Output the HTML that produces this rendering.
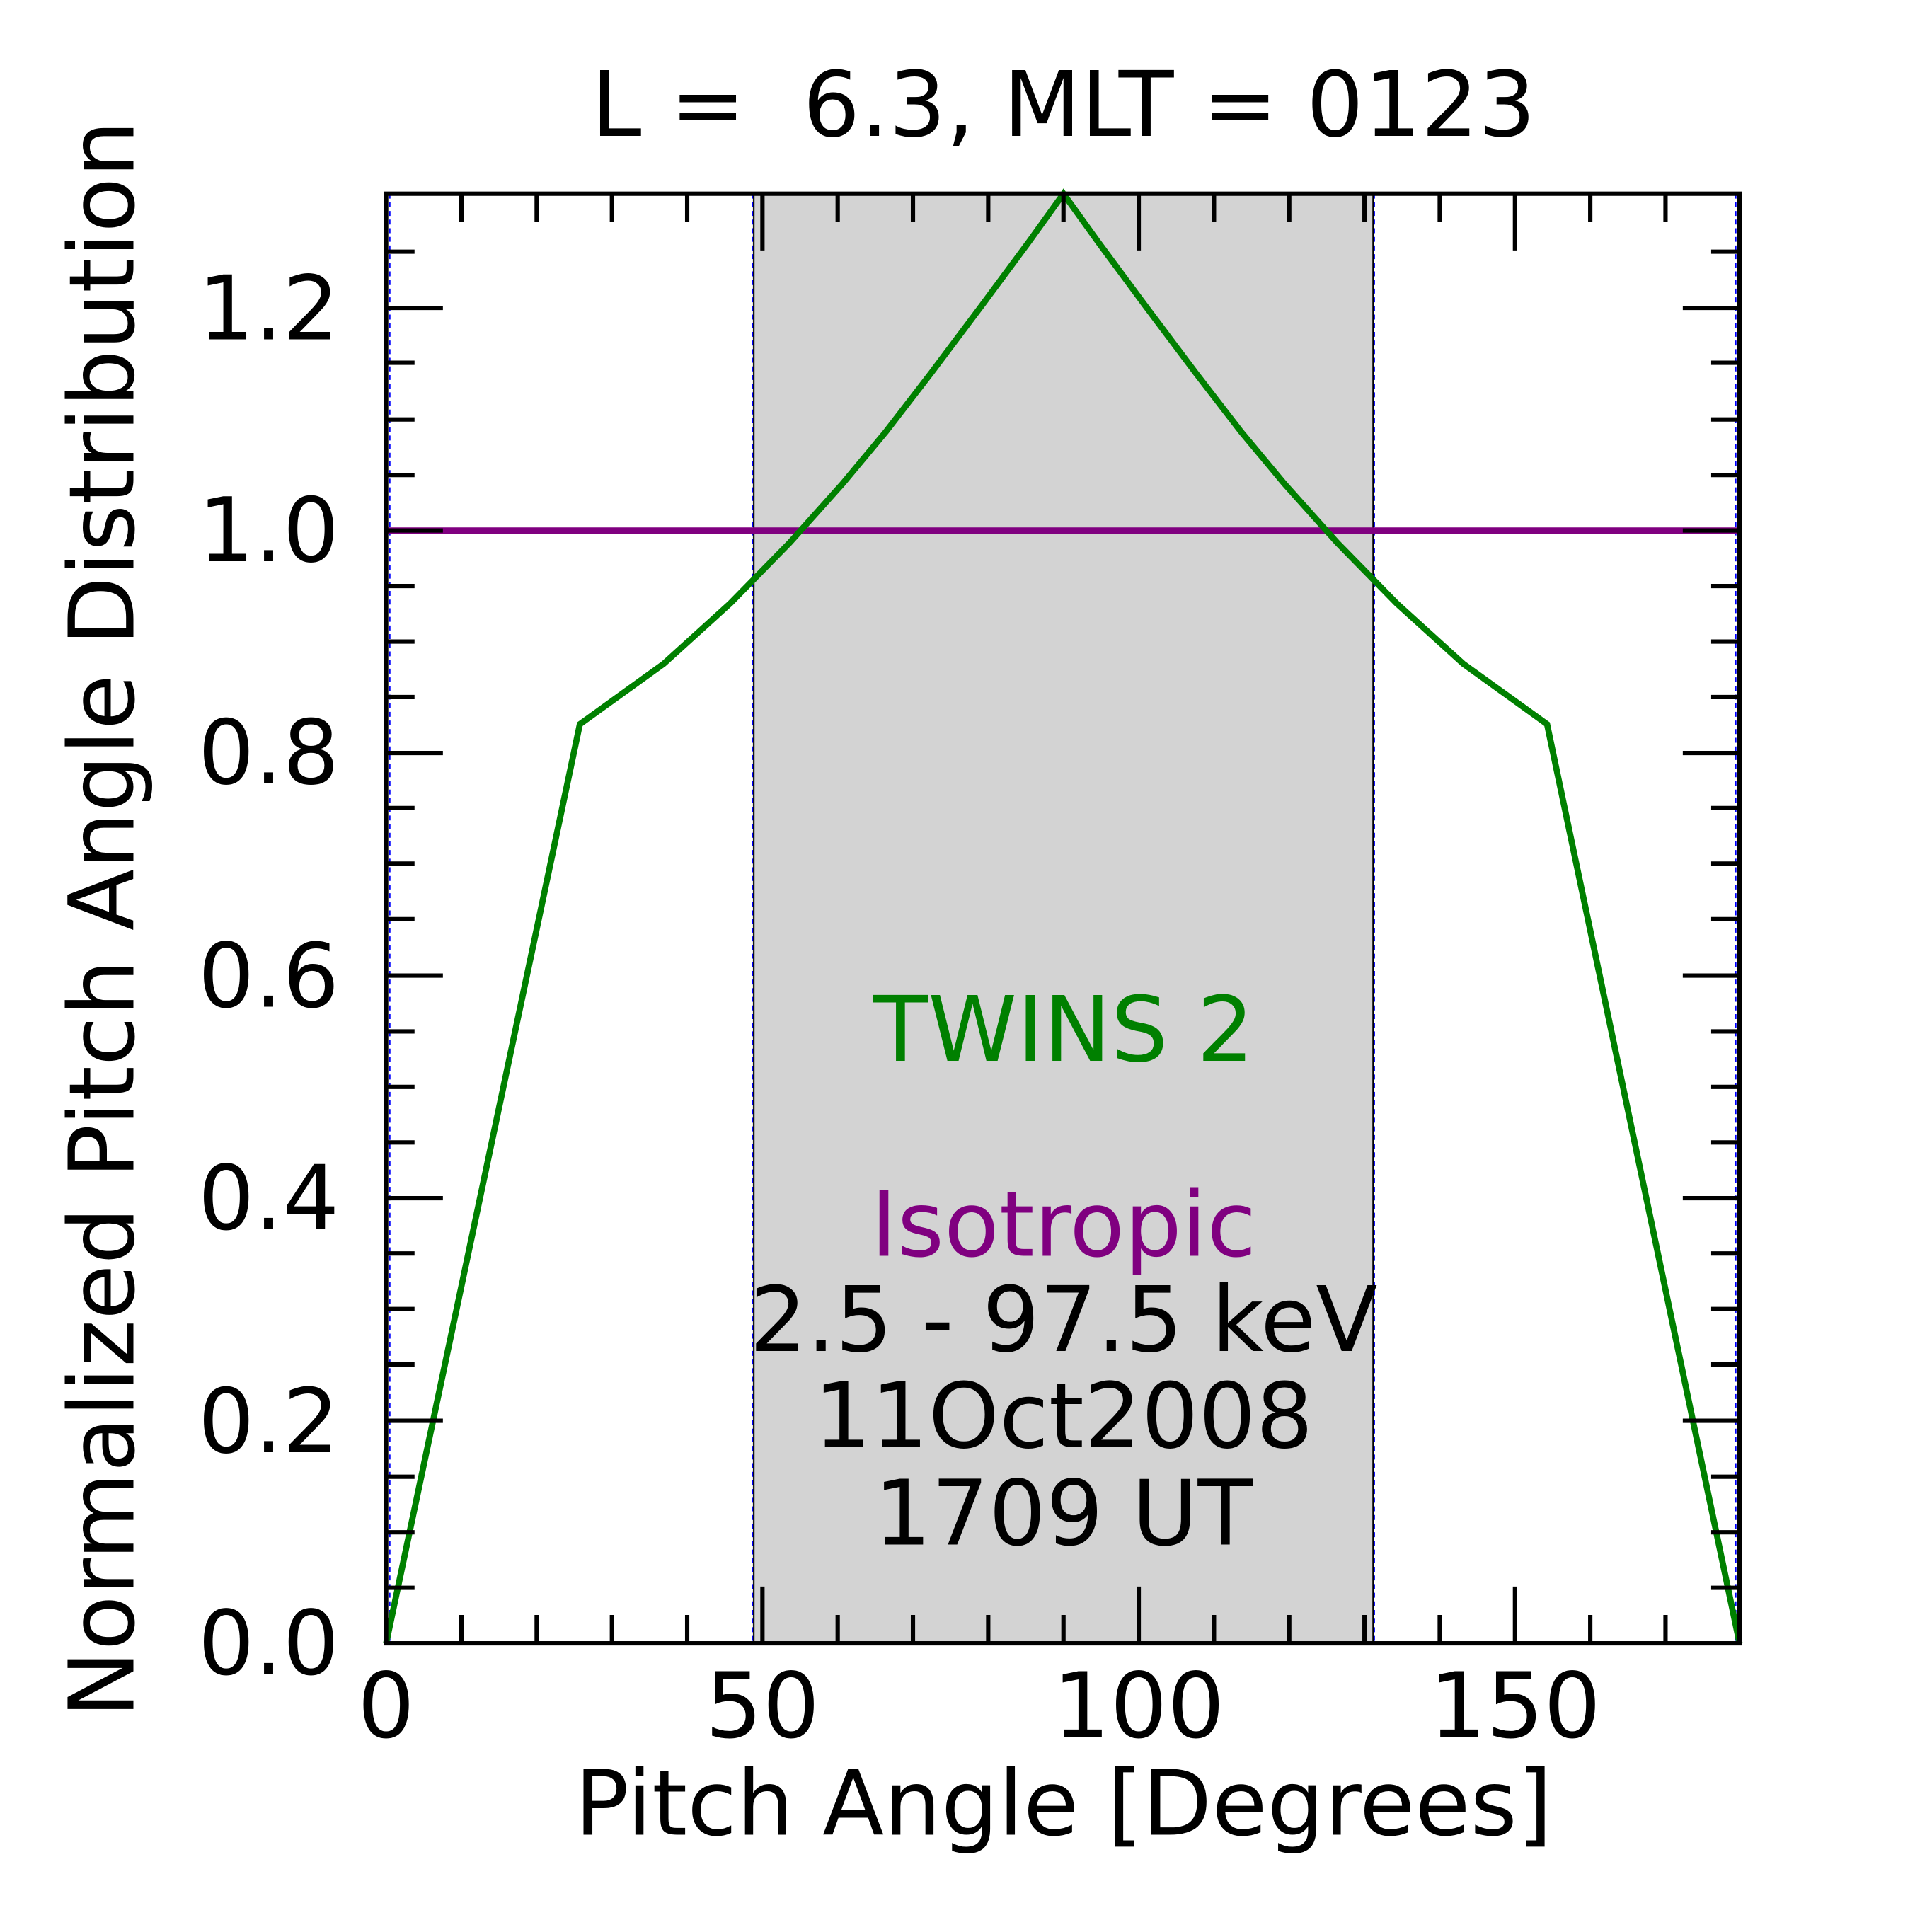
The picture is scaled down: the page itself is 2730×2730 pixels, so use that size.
<!DOCTYPE html>
<html><head><style>html,body{margin:0;padding:0;background:#fff}svg{display:block}</style></head>
<body>
<svg xmlns="http://www.w3.org/2000/svg" width="2730" height="2730" viewBox="0 0 1566 1566">
<g font-family="DejaVu Sans, Liberation Sans, sans-serif">
<rect x="610" y="157" width="504" height="1175" fill="#d3d3d3"/>
<g stroke="#0000ff" stroke-width="1" stroke-dasharray="4,3">
<line x1="610" y1="157" x2="610" y2="1332"/><line x1="1114" y1="157" x2="1114" y2="1332"/>
<line x1="316" y1="157" x2="316" y2="1332"/><line x1="1407" y1="157" x2="1407" y2="1332"/>
</g>
<g stroke="#000" stroke-width="1.2"><line x1="611" y1="157" x2="611" y2="1332"/><line x1="1113" y1="157" x2="1113" y2="1332"/></g>
<line x1="313" y1="430" x2="1410" y2="430" stroke="#800080" stroke-width="5"/>
<polyline fill="none" stroke="#008000" stroke-width="5" points="313,1332 470,587 538,538 592,489 640,440 683,392 718,350 755,302 797,246 834,196 862,157 890,196 927,246 969,302 1006,350 1041,392 1084,440 1132,489 1186,538 1254,587 1410,1332"/>
<g stroke="#000" stroke-width="3.5">
<rect x="313" y="157" width="1097" height="1175" fill="none"/>
<path d="M374,1332v-23M435,1332v-23M496,1332v-23M557,1332v-23M679,1332v-23M740,1332v-23M801,1332v-23M862,1332v-23M984,1332v-23M1045,1332v-23M1106,1332v-23M1167,1332v-23M1289,1332v-23M1350,1332v-23
M618,1332v-46M923,1332v-46M1228,1332v-46
M374,157v23M435,157v23M496,157v23M557,157v23M679,157v23M740,157v23M801,157v23M862,157v23M984,157v23M1045,157v23M1106,157v23M1167,157v23M1289,157v23M1350,157v23
M618,157v46M923,157v46M1228,157v46"/>
<path d="M313,1151.6h46M313,971.2h46M313,790.8h46M313,610.4h46M313,430h46M313,249.6h46
M1410,1151.6h-46M1410,971.2h-46M1410,790.8h-46M1410,610.4h-46M1410,430h-46M1410,249.6h-46
M313,1287h23M313,1242h23M313,1197h23M313,1106h23M313,1061h23M313,1016h23M313,926h23M313,881h23M313,836h23M313,745h23M313,700h23M313,655h23M313,565h23M313,520h23M313,475h23M313,385h23M313,340h23M313,294h23M313,204h23
M1410,1287h-23M1410,1242h-23M1410,1197h-23M1410,1106h-23M1410,1061h-23M1410,1016h-23M1410,926h-23M1410,881h-23M1410,836h-23M1410,745h-23M1410,700h-23M1410,655h-23M1410,565h-23M1410,520h-23M1410,475h-23M1410,385h-23M1410,340h-23M1410,294h-23M1410,204h-23"/>
</g>
<g font-size="72" fill="#000" text-anchor="end">
<text x="275" y="1357">0.0</text><text x="275" y="1177">0.2</text><text x="275" y="996">0.4</text><text x="275" y="816">0.6</text><text x="275" y="635">0.8</text><text x="275" y="455">1.0</text><text x="275" y="275">1.2</text>
</g>
<g font-size="73" fill="#000" text-anchor="middle">
<text x="313" y="1408">0</text><text x="618" y="1408">50</text><text x="923" y="1408">100</text><text x="1228" y="1408">150</text>
<text x="862" y="1487">Pitch Angle [Degrees]</text>
<text x="862" y="110" xml:space="preserve">L =  6.3, MLT = 0123</text>
<text transform="translate(108,745) rotate(-90)">Normalized Pitch Angle Distribution</text>
<text x="862" y="860" fill="#008000">TWINS 2</text>
<text x="862" y="1018" fill="#800080">Isotropic</text>
<text x="862" y="1095">2.5 - 97.5 keV</text>
<text x="862" y="1173">11Oct2008</text>
<text x="862" y="1252">1709 UT</text>
</g>
</g>
</svg>
</body></html>
